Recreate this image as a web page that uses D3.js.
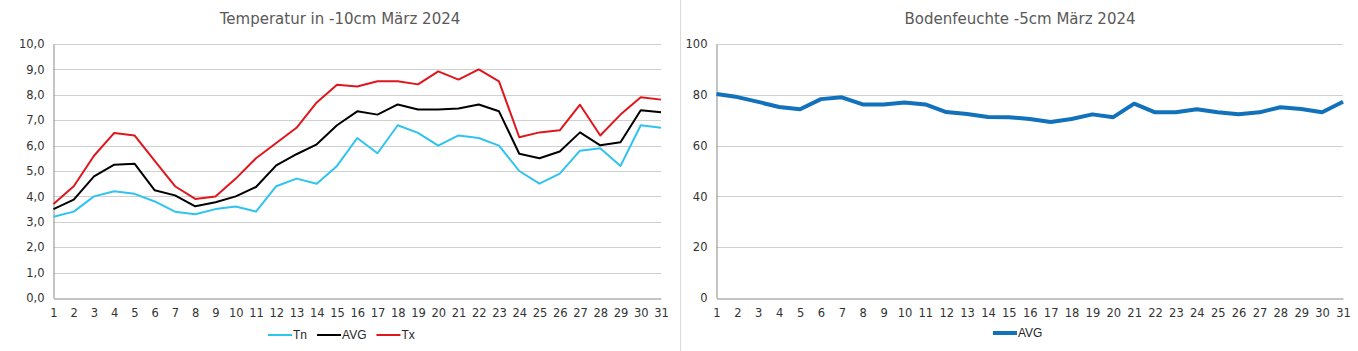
<!DOCTYPE html>
<html>
<head>
<meta charset="utf-8">
<script src="https://cdn.jsdelivr.net/npm/d3@7"></script>
<style>
  html, body { margin: 0; padding: 0; background: #fff; }
  svg { display: block; }
  .tick text { font-family: "DejaVu Sans", Verdana, sans-serif; font-size: 11.5px; fill: #333; }
  .title { font-family: "DejaVu Sans", Verdana, sans-serif; font-size: 15px; fill: #595959; }
  .legend { font-family: "Liberation Sans", Arial, sans-serif; font-size: 12px; fill: #262626; }
</style>
</head>
<body>
<svg id="chart" width="1358" height="351"></svg>
<script>
// --- Data ---
const days = d3.range(1, 32);

const tempTn = [3.2, 3.4, 4.0, 4.2, 4.1, 3.8, 3.4, 3.3, 3.5, 3.6, 3.4, 4.4, 4.7, 4.5, 5.2, 6.3,
  5.7, 6.8, 6.5, 6.0, 6.4, 6.3, 6.0, 5.0, 4.5, 4.9, 5.8, 5.9, 5.2, 6.8, 6.7];
const tempAvg = [3.5, 3.87, 4.79, 5.25, 5.29, 4.24, 4.04, 3.61, 3.77, 4.0, 4.37, 5.22, 5.66, 6.05, 6.8, 7.35,
  7.22, 7.62, 7.42, 7.42, 7.46, 7.62, 7.35, 5.68, 5.5, 5.77, 6.52, 6.01, 6.13, 7.39, 7.31];
const tempTx = [3.7, 4.4, 5.6, 6.5, 6.4, 5.4, 4.4, 3.9, 4.0, 4.7, 5.5, 6.1, 6.7, 7.7, 8.4, 8.33,
  8.53, 8.53, 8.41, 8.92, 8.6, 9.0, 8.53, 6.33, 6.52, 6.6, 7.61, 6.4, 7.22, 7.9, 7.81];

const moistAvg = [80.3, 79.1, 77.2, 75.2, 74.3, 78.3, 79.0, 76.2, 76.2, 77.0, 76.2, 73.2, 72.4, 71.3, 71.2, 70.5,
  69.3, 70.5, 72.3, 71.2, 76.5, 73.1, 73.1, 74.3, 73.1, 72.3, 73.1, 75.1, 74.4, 73.1, 77.3];

const tempTicks = d3.range(0, 10.01, 1);
const moistTicks = [0, 20, 40, 60, 80, 100];

const svg = d3.select("#chart");

// divider between the two charts
svg.append("line")
  .attr("x1", 680.5).attr("x2", 680.5)
  .attr("y1", 0).attr("y2", 351)
  .attr("stroke", "#d9d9d9");

function drawPanel(cfg) {
  const g = svg.append("g");
  const x = d3.scaleLinear().domain([1, 31]).range([cfg.left, cfg.right]);
  const y = d3.scaleLinear().domain(cfg.yDomain).range([298, 44]);

  // gridlines
  g.append("g")
    .selectAll("line")
    .data(cfg.yTicks.filter((d) => d !== cfg.yDomain[0]))
    .join("line")
    .attr("x1", cfg.left).attr("x2", cfg.right)
    .attr("y1", (d) => Math.round(y(d)) + 0.5)
    .attr("y2", (d) => Math.round(y(d)) + 0.5)
    .attr("stroke", "#d0d0d0");

  // y axis
  const yAxis = g.append("g")
    .attr("transform", `translate(${cfg.left},0)`)
    .call(d3.axisLeft(y).tickValues(cfg.yTicks).tickFormat(cfg.fmt).tickSize(0).tickPadding(9));
  yAxis.select(".domain").attr("stroke", "#898989");

  // x axis
  const xAxis = g.append("g")
    .attr("transform", "translate(0,298.5)")
    .call(d3.axisBottom(x).tickValues(days).tickFormat(d3.format("d")).tickSize(0).tickPadding(10));
  xAxis.select(".domain").attr("stroke", "#898989");

  const line = d3.line().x((d, i) => x(days[i])).y((d) => y(d));
  cfg.series.forEach((s) => {
    g.append("path")
      .datum(s.values)
      .attr("fill", "none")
      .attr("stroke", s.color)
      .attr("stroke-width", s.width)
      .attr("stroke-linejoin", "round")
      .attr("d", line);
  });

  // title
  g.append("text")
    .attr("class", "title")
    .attr("x", cfg.titleX)
    .attr("y", 24)
    .attr("text-anchor", "middle")
    .text(cfg.title);

  // legend
  let lx = cfg.legendX;
  cfg.series.forEach((s) => {
    g.append("line")
      .attr("x1", lx).attr("x2", lx + 24)
      .attr("y1", cfg.legendY).attr("y2", cfg.legendY)
      .attr("stroke", s.color)
      .attr("stroke-width", s.width);
    const t = g.append("text")
      .attr("class", "legend")
      .attr("x", lx + 25)
      .attr("y", cfg.legendY + 4)
      .text(s.name);
    lx += 25 + t.node().getComputedTextLength() + 10;
  });
}

drawPanel({
  left: 53.5, right: 661,
  yDomain: [0, 10], yTicks: tempTicks, fmt: (d) => d3.format(".1f")(d).replace(".", ","),
  title: "Temperatur in -10cm März 2024", titleX: 340,
  legendX: 268, legendY: 335,
  series: [
    { name: "Tn", values: tempTn, color: "#2ec4ef", width: 2 },
    { name: "AVG", values: tempAvg, color: "#000000", width: 2 },
    { name: "Tx", values: tempTx, color: "#e0161d", width: 2 },
  ],
});

drawPanel({
  left: 716.5, right: 1343,
  yDomain: [0, 100], yTicks: moistTicks, fmt: d3.format("d"),
  title: "Bodenfeuchte -5cm März 2024", titleX: 1020,
  legendX: 993, legendY: 333,
  series: [
    { name: "AVG", values: moistAvg, color: "#1271bb", width: 4 },
  ],
});
</script>
</body>
</html>
